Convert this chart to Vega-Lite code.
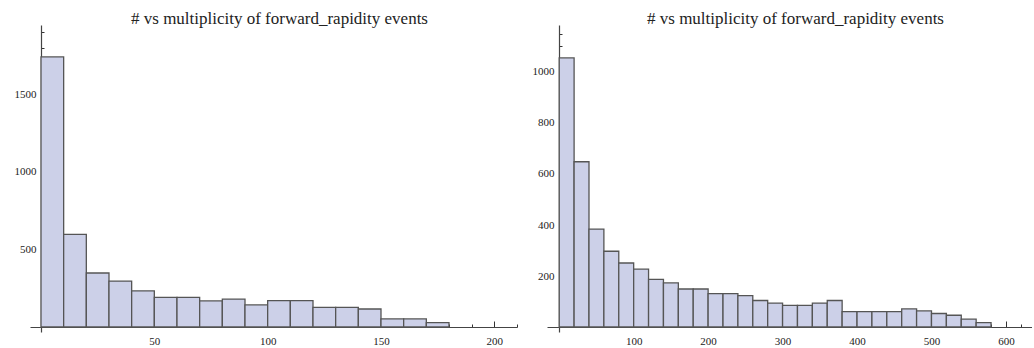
{
  "$schema": "https://vega.github.io/schema/vega-lite/v6.json",
  "padding": {"left": 14, "top": 10, "right": 0, "bottom": 0},
  "background": "white",
  "datasets": {
    "left": [
      {"bin_start": 0, "bin_end": 10, "count": 1740},
      {"bin_start": 10, "bin_end": 20, "count": 597},
      {"bin_start": 20, "bin_end": 30, "count": 348},
      {"bin_start": 30, "bin_end": 40, "count": 296},
      {"bin_start": 40, "bin_end": 50, "count": 233},
      {"bin_start": 50, "bin_end": 60, "count": 191},
      {"bin_start": 60, "bin_end": 70, "count": 191},
      {"bin_start": 70, "bin_end": 80, "count": 168},
      {"bin_start": 80, "bin_end": 90, "count": 180},
      {"bin_start": 90, "bin_end": 100, "count": 142},
      {"bin_start": 100, "bin_end": 110, "count": 170},
      {"bin_start": 110, "bin_end": 120, "count": 170},
      {"bin_start": 120, "bin_end": 130, "count": 127},
      {"bin_start": 130, "bin_end": 140, "count": 127},
      {"bin_start": 140, "bin_end": 150, "count": 116},
      {"bin_start": 150, "bin_end": 160, "count": 52},
      {"bin_start": 160, "bin_end": 170, "count": 52},
      {"bin_start": 170, "bin_end": 180, "count": 28}
    ],
    "right": [
      {"bin_start": 0, "bin_end": 20, "count": 1055},
      {"bin_start": 20, "bin_end": 40, "count": 648},
      {"bin_start": 40, "bin_end": 60, "count": 384},
      {"bin_start": 60, "bin_end": 80, "count": 297},
      {"bin_start": 80, "bin_end": 100, "count": 251},
      {"bin_start": 100, "bin_end": 120, "count": 227},
      {"bin_start": 120, "bin_end": 140, "count": 187},
      {"bin_start": 140, "bin_end": 160, "count": 173},
      {"bin_start": 160, "bin_end": 180, "count": 149},
      {"bin_start": 180, "bin_end": 200, "count": 149},
      {"bin_start": 200, "bin_end": 220, "count": 131},
      {"bin_start": 220, "bin_end": 240, "count": 131},
      {"bin_start": 240, "bin_end": 260, "count": 123},
      {"bin_start": 260, "bin_end": 280, "count": 104},
      {"bin_start": 280, "bin_end": 300, "count": 94},
      {"bin_start": 300, "bin_end": 320, "count": 85},
      {"bin_start": 320, "bin_end": 340, "count": 85},
      {"bin_start": 340, "bin_end": 360, "count": 94},
      {"bin_start": 360, "bin_end": 380, "count": 104},
      {"bin_start": 380, "bin_end": 400, "count": 60},
      {"bin_start": 400, "bin_end": 420, "count": 60},
      {"bin_start": 420, "bin_end": 440, "count": 60},
      {"bin_start": 440, "bin_end": 460, "count": 60},
      {"bin_start": 460, "bin_end": 480, "count": 71},
      {"bin_start": 480, "bin_end": 500, "count": 63},
      {"bin_start": 500, "bin_end": 520, "count": 53},
      {"bin_start": 520, "bin_end": 540, "count": 46},
      {"bin_start": 540, "bin_end": 560, "count": 31},
      {"bin_start": 560, "bin_end": 580, "count": 17}
    ]
  },
  "config": {
    "view": {"stroke": null},
    "font": "Liberation Serif",
    "title": {"font": "Liberation Serif", "fontSize": 17, "fontWeight": "normal", "color": "#222", "offset": -3, "dx": 6},
    "axis": {
      "domainColor": "#444",
      "domainWidth": 1.2,
      "tickColor": "#333",
      "tickWidth": 1,
      "labelFont": "Liberation Serif",
      "labelFontSize": 11,
      "labelColor": "#222",
      "grid": false,
      "title": null,
      "format": "d",
      "labelFlush": false,
      "labelOverlap": false
    }
  },
  "spacing": 30,
  "bounds": "flush",
  "hconcat": [
    {
      "title": "# vs multiplicity of  forward_rapidity events",
      "width": 487,
      "height": 307,
      "data": {"name": "left"},
      "mark": {"type": "rect", "fill": "#CCD0E8", "stroke": "#555", "strokeWidth": 1.3},
      "encoding": {
        "x": {
          "field": "bin_start", "type": "quantitative",
          "scale": {"domain": [-4.85, 210], "nice": false, "zero": false},
          "axis": {
            "offset": -5,
            "values": [10,20,30,40,50,60,70,80,90,100,110,120,130,140,150,160,170,180,190,200,210],
            "labelExpr": "datum.value % 50 === 0 ? datum.label : ''",
            "tickSize": {"condition": {"test": "datum.value % 50 === 0", "value": -6}, "value": -3},
            "labelPadding": 14
          }
        },
        "x2": {"field": "bin_end"},
        "y": {
          "field": "count", "type": "quantitative",
          "scale": {"domain": [-32.2, 1945.9], "nice": false, "zero": false},
          "axis": {
            "offset": -11,
            "values": [100,200,300,400,500,600,700,800,900,1000,1100,1200,1300,1400,1500,1600,1700,1800,1900],
            "labelExpr": "datum.value % 500 === 0 ? datum.label : ''",
            "tickSize": {"condition": {"test": "datum.value % 500 === 0", "value": -7}, "value": -3},
            "labelPadding": 12
          }
        },
        "y2": {"datum": 0}
      }
    },
    {
      "title": "# vs multiplicity of  forward_rapidity events",
      "width": 485,
      "height": 307,
      "data": {"name": "right"},
      "mark": {"type": "rect", "fill": "#CCD0E8", "stroke": "#555", "strokeWidth": 1.3},
      "encoding": {
        "x": {
          "field": "bin_start", "type": "quantitative",
          "scale": {"domain": [-16.4, 635], "nice": false, "zero": false},
          "axis": {
            "offset": -5,
            "values": [20,40,60,80,100,120,140,160,180,200,220,240,260,280,300,320,340,360,380,400,420,440,460,480,500,520,540,560,580,600,620],
            "labelExpr": "datum.value % 100 === 0 ? datum.label : ''",
            "tickSize": {"condition": {"test": "datum.value % 100 === 0", "value": -6}, "value": -3},
            "labelPadding": 14
          }
        },
        "x2": {"field": "bin_end"},
        "y": {
          "field": "count", "type": "quantitative",
          "scale": {"domain": [-19.6, 1184.3], "nice": false, "zero": false},
          "axis": {
            "offset": -12,
            "values": [50,100,150,200,250,300,350,400,450,500,550,600,650,700,750,800,850,900,950,1000,1050,1100,1150],
            "labelExpr": "datum.value % 200 === 0 ? datum.label : ''",
            "tickSize": {"condition": {"test": "datum.value % 200 === 0", "value": -7}, "value": -3},
            "labelPadding": 12
          }
        },
        "y2": {"datum": 0}
      }
    }
  ]
}
